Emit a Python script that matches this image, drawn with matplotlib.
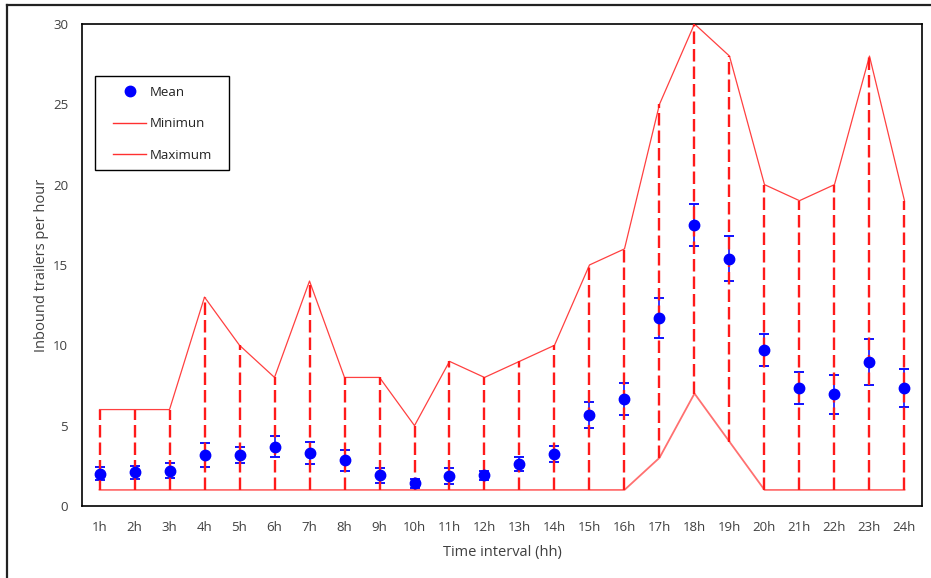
import matplotlib
matplotlib.use("Agg")
import matplotlib.pyplot as plt
from matplotlib.lines import Line2D
from matplotlib.patches import Rectangle
import numpy as np

## DATA ##
hour_labels = ["1h", "2h", "3h", "4h", "5h", "6h", "7h", "8h", "9h", "10h", "11h", "12h",
               "13h", "14h", "15h", "16h", "17h", "18h", "19h", "20h", "21h", "22h", "23h", "24h"]
mean_values = [2.0, 2.1, 2.2, 3.2, 3.15, 3.7, 3.3, 2.85, 1.9, 1.4, 1.85, 1.9,
               2.6, 3.25, 5.65, 6.65, 11.7, 17.5, 15.4, 9.7, 7.35, 6.95, 8.95, 7.35]
error_values = [0.4, 0.4, 0.45, 0.75, 0.5, 0.63, 0.7, 0.66, 0.45, 0.28, 0.5, 0.3,
                0.42, 0.5, 0.8, 1.0, 1.25, 1.3, 1.4, 1.0, 1.0, 1.2, 1.45, 1.2]
min_values = [1, 1, 1, 1, 1, 1, 1, 1, 1, 1, 1, 1,
              1, 1, 1, 1, 3, 7, 4, 1, 1, 1, 1, 1]
max_values = [6, 6, 6, 13, 10, 8, 14, 8, 8, 5, 9, 8,
              9, 10, 15, 16, 25, 30, 28, 20, 19, 20, 28, 19]

plt.rcParams["font.family"] = ["Open Sans", "DejaVu Sans"]
plt.rcParams["lines.scale_dashes"] = False

TEXT_COLOR = "#404040"

fig = plt.figure(figsize=(9.31, 5.78), dpi=100)
ax = fig.add_axes([0.0881, 0.1246, 0.9022, 0.834])

x = np.arange(1, len(hour_labels) + 1)

## MIN / MAX LINES ##
ax.plot(x, min_values, color="#ff7070", linewidth=1.3, zorder=2, label="Minimun")
ax.plot(x, max_values, color="#ff4040", linewidth=0.9, zorder=2, label="Maximum")

## DROP LINES (dashed, min to max) ##
ax.vlines(x, min_values, max_values, colors="#ff1a1a", linewidth=1.7,
          linestyles=[(0, (9.0, 3.6))], zorder=3)

## MEAN WITH ERROR BARS ##
ax.errorbar(x, mean_values, yerr=error_values, fmt="none", ecolor="#1010ff",
            elinewidth=1.2, capsize=3.5, capthick=1.4, zorder=2.5)
ax.plot(x, mean_values, linestyle="none", marker="o", markersize=7.5,
        color="#0000ff", zorder=4, label="Mean")

## AXES ##
ax.set_xlim(0.5, len(hour_labels) + 0.5)
ax.set_ylim(0, 30)
ax.set_yticks(np.arange(0, 31, 5))
ax.set_xticks(x)
ax.set_xticklabels(hour_labels)
ax.tick_params(length=0, labelsize=9.5, labelcolor=TEXT_COLOR, pad=11)
ax.tick_params(axis="y", pad=10)
for spine in ax.spines.values():
    spine.set_linewidth(1.2)
    spine.set_color("black")

ax.set_xlabel("Time interval (hh)", fontsize=10.5, color=TEXT_COLOR, labelpad=8)
ax.set_ylabel("Inbound trailers per hour", fontsize=10.5, color=TEXT_COLOR, labelpad=3)

## LEGEND (box drawn separately for wider side padding) ##
# pixel -> axes fraction: axes spans x 82..922, y 24..506
h_mean = Line2D([], [], linestyle="none", marker="o", markersize=7.5, color="#0000ff")
h_min = Line2D([], [], color="#ff3030", linewidth=1.0)
h_max = Line2D([], [], color="#ff3030", linewidth=1.0)
leg = ax.legend([h_mean, h_min, h_max], ["Mean", "Minimun", "Maximum"],
                loc="upper left", bbox_to_anchor=((113 - 82) / 840, (506 - 86) / 482),
                fontsize=9.5, frameon=False, labelspacing=1.4, handlelength=2.5,
                handletextpad=0.3, borderpad=0, borderaxespad=0)
for t in leg.get_texts():
    t.set_color("#222222")
ax.add_patch(Rectangle(((95 - 82) / 840, (506 - 170) / 482), 134 / 840, 94 / 482,
                       transform=ax.transAxes, fill=False, edgecolor="black",
                       linewidth=1.0, zorder=5))

## OUTER FRAME (left and top edges visible in crop) ##
fig.add_artist(Line2D([7 / 931, 7 / 931], [0, 1 - 5 / 578], color="#222222", linewidth=1.6,
                      transform=fig.transFigure))
fig.add_artist(Line2D([7 / 931, 1], [1 - 5 / 578, 1 - 5 / 578], color="#222222", linewidth=1.6,
                      transform=fig.transFigure))

fig.savefig("out.png", dpi=100)
